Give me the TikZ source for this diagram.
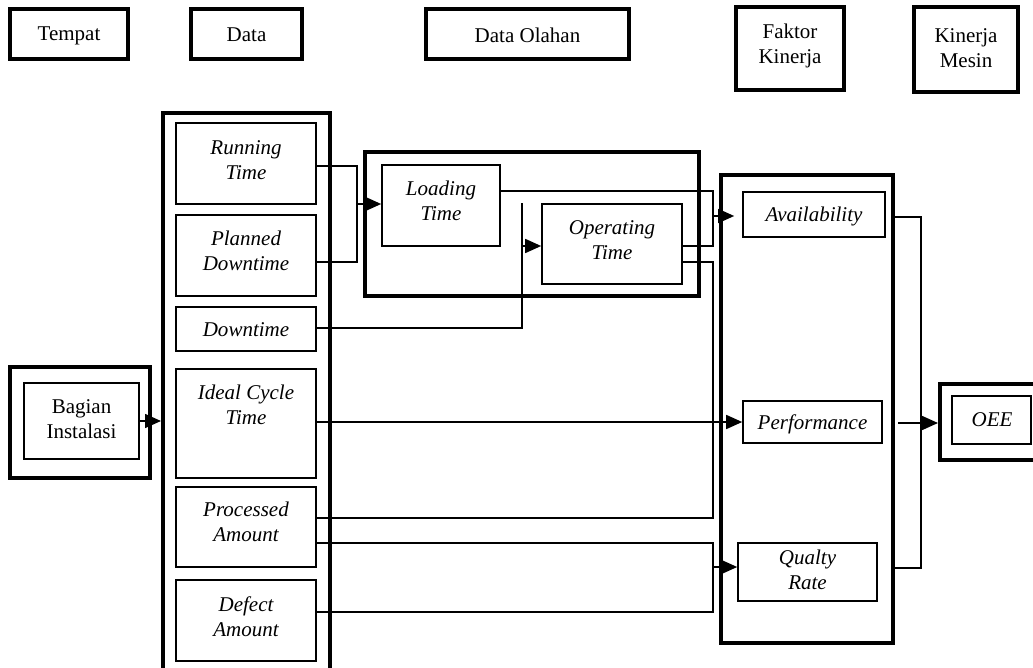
\documentclass[tikz,border=0pt]{standalone}
\usepackage{fontspec}
\setmainfont{Liberation Serif}
\usetikzlibrary{fit,arrows.meta}

\tikzset{
  txt/.style={font=\fontsize{10.5}{12.5}\selectfont, align=center, inner sep=0pt},
  itxt/.style={txt, font=\fontsize{10.5}{12.5}\selectfont\itshape},
  hdr/.style={draw, line width=1.8pt, inner sep=0pt},
  frame/.style={draw, line width=2pt, inner sep=0pt},
  ibox/.style={draw, line width=0.8pt, inner sep=0pt},
  conn/.style={line width=0.8pt},
  arr/.style={line width=0.8pt, -{Triangle[length=8pt,width=7pt]}},
}

\begin{document}
\begin{tikzpicture}[x=0.5pt,y=-0.5pt]
\useasboundingbox (0,0) rectangle (1033,668);
\clip (0,0) rectangle (1033,668);

% column headers
\node[hdr, fit={(10,9) (128,59)}] (hTempat) {};
\node[hdr, fit={(191,9) (302,59)}] (hData) {};
\node[hdr, fit={(426,9) (629,59)}] (hOlahan) {};
\node[hdr, fit={(736,7) (844,90)}] (hFaktor) {};
\node[hdr, fit={(914,7) (1018,92)}] (hKinerja) {};
\node[txt] (hTempatT) at (69,36) {Tempat};
\node[txt] (hDataT) at (246.5,35) {Data};
\node[txt] (hOlahanT) at (527.5,35) {Data Olahan};
\node[txt] (hFaktorT) at (790,46) {Faktor\\Kinerja};
\node[txt] (hKinerjaT) at (966,48) {Kinerja\\Mesin};

% place
\node[frame, fit={(10,367) (150,478)}] (bio) {};
\node[ibox, fit={(24,383) (139,459)}] (bi) {};
\node[txt] (biT) at (81.5,419) {Bagian\\Instalasi};

% data column
\node[frame, fit={(163,113) (330,690)}] (df) {};
\node[ibox, fit={(176,123) (316,204)}] (rt) {};
\node[ibox, fit={(176,215) (316,296)}] (pd) {};
\node[ibox, fit={(176,307) (316,351)}] (dt) {};
\node[ibox, fit={(176,369) (316,478)}] (ict) {};
\node[ibox, fit={(176,487) (316,567)}] (pa) {};
\node[ibox, fit={(176,580) (316,661)}] (da) {};
\node[itxt] (rtT) at (246,160) {Running\\Time};
\node[itxt] (pdT) at (246,251) {Planned\\Downtime};
\node[itxt] (dtT) at (246,330) {Downtime};
\node[itxt] (ictT) at (246,405) {Ideal Cycle\\Time};
\node[itxt] (paT) at (246,522) {Processed\\Amount};
\node[itxt] (daT) at (246,617) {Defect\\Amount};

% processed data
\node[frame, fit={(365,152) (699,296)}] (of) {};
\node[ibox, fit={(382,165) (500,246)}] (lt) {};
\node[ibox, fit={(542,204) (682,284)}] (ot) {};
\node[itxt] (ltT) at (441,201) {Loading\\Time};
\node[itxt] (otT) at (612,240) {Operating\\Time};

% performance factors
\node[frame, fit={(721,175) (893,643)}] (ff) {};
\node[ibox, fit={(743,192) (885,237)}] (av) {};
\node[ibox, fit={(743,401) (882,443)}] (pf) {};
\node[ibox, fit={(738,543) (877,601)}] (qr) {};
\node[itxt] (avT) at (814,216) {Availability};
\node[itxt] (pfT) at (812.5,424) {Performance};
\node[itxt] (qrT) at (807.5,570) {Qualty\\Rate};

% machine performance
\node[frame, fit={(940,384) (1040,460)}] (oeeo) {};
\node[ibox, fit={(952,396) (1031,444)}] (oee) {};
\node[itxt] (oeeT) at (992,420) {OEE};

% junction points
\coordinate (j1top) at (357,166);
\coordinate (j1bot) at (357,262);
\coordinate (j1) at (357,204);
\coordinate (j2top) at (522,203);
\coordinate (j2bot) at (522,328);
\coordinate (j2) at (522,246);
\coordinate (j3top) at (713,191);
\coordinate (j3bot) at (713,246);
\coordinate (j3) at (713,216);
\coordinate (j4top) at (713,262);
\coordinate (j4bot) at (713,518);
\coordinate (j6top) at (713,543);
\coordinate (j6bot) at (713,612);
\coordinate (j6) at (713,567);
\coordinate (k1top) at (921,217);
\coordinate (k1bot) at (921,568);
\coordinate (k2) at (898,423);

% connectors
\draw[arr] (bi.east) -- (df.west|-bi.east);

\draw[conn] (rt.east|-j1top) -- (j1top) -- (j1bot) -- (pd.east|-j1bot);
\draw[arr] (j1) -- (lt.west|-j1);

\draw[conn] (dt.east|-j2bot) -- (j2bot) -- (j2top);
\draw[arr] (j2) -- (ot.west|-j2);

\draw[conn] (lt.east|-j3top) -- (j3top) -- (j3bot) -- (ot.east|-j3bot);
\draw[arr, shorten >=4pt] (j3) -- (av.west|-j3);

\draw[conn] (ot.east|-j4top) -- (j4top) -- (j4bot) -- (pa.east|-j4bot);

\draw[arr] (ict.east|-pf.west) -- (pf.west);

\draw[conn] (pa.east|-j6top) -- (j6top) -- (j6bot) -- (da.east|-j6bot);
\draw[arr] (j6) -- (qr.west|-j6);

\draw[conn] (ff.east|-k1top) -- (k1top) -- (k1bot) -- (ff.east|-k1bot);
\draw[arr] (k2) -- (oeeo.west|-k2);
\end{tikzpicture}
\end{document}
